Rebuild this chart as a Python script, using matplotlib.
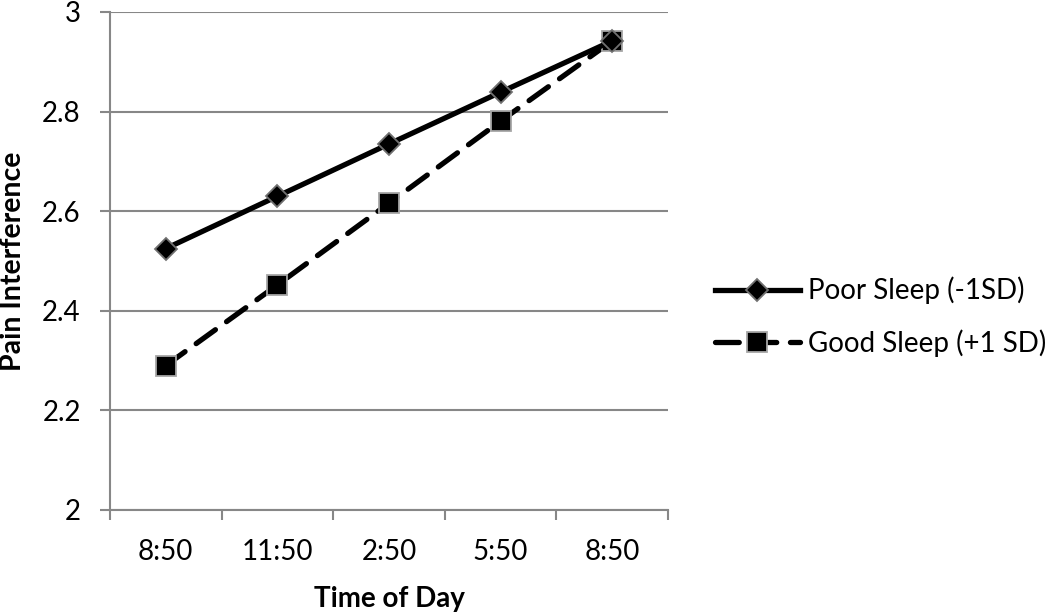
import numpy as np
import matplotlib.pyplot as plt
from matplotlib.lines import Line2D

plt.rcParams['font.family'] = ['Lato', 'DejaVu Sans']

times = ['8:50', '11:50', '2:50', '5:50', '8:50']
poor_sleep = [2.525, 2.630, 2.735, 2.839, 2.942]
good_sleep = [2.290, 2.452, 2.616, 2.781, 2.942]
yticks = [2.0, 2.2, 2.4, 2.6, 2.8, 3.0]
ytick_labels = ['2', '2.2', '2.4', '2.6', '2.8', '3']

grid_col = '#878787'
dash = (0, (4.5, 2.6))

fig = plt.figure(figsize=(10.5, 6.13), dpi=100)
ax = fig.add_axes([110 / 1050, 1 - 510 / 613, 558 / 1050, 498 / 613])

x = np.arange(len(times))
ax.plot(x, good_sleep, color='black', lw=3.8, ls=dash, dash_capstyle='round',
        marker='s', ms=14, mfc='black', mec='#a6a6a6', mew=1.3,
        label='Good Sleep (+1 SD)', zorder=3)
ax.plot(x, poor_sleep, color='black', lw=3.8, ls='-',
        marker='D', ms=11, mfc='black', mec='#707070', mew=1.3,
        label='Poor Sleep (-1SD)', zorder=4)

ax.set_xlim(-0.5, len(times) - 0.5)
ax.set_ylim(2.0, 3.0)
ax.set_yticks(yticks)
ax.set_yticklabels(ytick_labels)
ax.set_xticks(x)
ax.set_xticklabels(times)
ax.set_xticks(np.arange(-0.5, len(times)), minor=True)
ax.tick_params(axis='x', which='major', length=0, pad=21, labelsize=20)
ax.tick_params(axis='x', which='minor', length=7, width=1.5, color=grid_col, direction='out')
ax.tick_params(axis='y', length=7, width=1.5, color=grid_col, pad=14, labelsize=20)

ax.grid(axis='y', color=grid_col, lw=1.5)
ax.set_axisbelow(True)
for s in ['top', 'right']:
    ax.spines[s].set_visible(False)
for s in ['left', 'bottom']:
    ax.spines[s].set_color(grid_col)
    ax.spines[s].set_linewidth(1.5)

ax.set_ylabel('Pain Interference', fontsize=20.5, fontweight='bold', labelpad=12)
ax.set_xlabel('Time of Day', fontsize=20, fontweight='bold', labelpad=15)

handles = [
    Line2D([], [], color='black', lw=3.8, marker='D', ms=11, mfc='black', mec='#707070', mew=1.3),
    Line2D([], [], color='black', lw=3.8, ls=dash, dash_capstyle='round',
           marker='s', ms=14, mfc='black', mec='#a6a6a6', mew=1.3),
]
fig.legend(handles, ['Poor Sleep (-1SD)', 'Good Sleep (+1 SD)'],
           loc='center left', bbox_to_anchor=(690 / 1050, 1 - 317 / 613),
           frameon=False, fontsize=20, handlelength=3.05, labelspacing=0.9,
           handletextpad=0.3)

fig.savefig('out.png', dpi=100)
